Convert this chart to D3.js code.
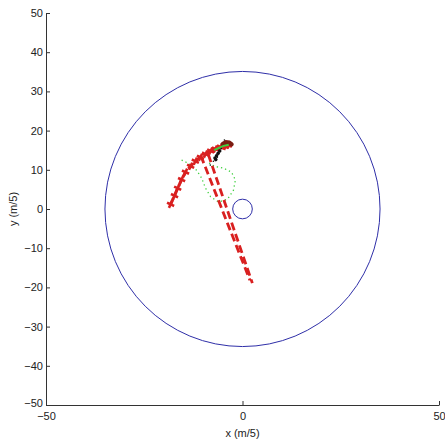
<!DOCTYPE html>
<html>
<head>
<meta charset="utf-8">
<script src="https://cdn.jsdelivr.net/npm/d3@7"></script>
<style>
  html, body { margin: 0; padding: 0; background: #fff; }
  svg { display: block; }
  text { font-family: "Liberation Sans", Arial, sans-serif; }
</style>
</head>
<body>
<svg id="chart" width="445" height="443"></svg>
<script>
// Axis ranges and tick values
const xTicks = [-50, 0, 50];
const yTicks = [-50, -40, -30, -20, -10, 0, 10, 20, 30, 40, 50];

// Boundary circles: [cx, cy, r]
const outerCircle = [0, 0, 35];
const innerCircle = [0, 0, 2.5];

// Curved track (red, with + markers)
const trackX = [-18.3, -17.3, -16.5, -15.5, -14.5, -13.2, -12.0, -10.7, -9.4, -8.1, -6.9, -5.6, -4.3, -3.6];
const trackY = [1.2, 3.4, 5.3, 7.5, 9.4, 10.9, 12.2, 13.2, 14.0, 14.8, 15.3, 15.8, 16.0, 16.3];

// Two straight dashed paths heading south
const pathAX = [-10.6, 1.9];
const pathAY = [13.6, -18.2];
const pathBX = [-8.7, 2.5];
const pathBY = [13.9, -18.9];

// Green dotted loop
const loopX = [-15.5, -13.5, -11.7, -10.4, -9.4, -8.1, -6.1, -3.8, -2.3, -1.8, -2.8, -4.8, -7.1, -8.6];
const loopY = [12.5, 11.5, 9.9, 7.9, 5.3, 3.1, 1.8, 2.5, 4.8, 7.4, 9.4, 10.4, 10.9, 11.8];

// Green segment near the end of the track
const endGreenX = [-7.2, -6.0, -4.8, -3.5];
const endGreenY = [15.0, 15.6, 16.1, 16.4];

// Dark end cluster
const endDarkX = [-5.0, -4.2, -3.4, -2.8];
const endDarkY = [16.6, 17.0, 16.9, 16.5];

// Black dots
const dotsX = [-7.0, -6.6, -6.2, -6.8, -5.8, -7.4, -5.4, -6.4, -8.2, -4.6];
const dotsY = [13.0, 13.6, 14.2, 12.6, 14.8, 12.2, 15.4, 13.2, 11.2, 17.6];

const svg = d3.select("#chart");
const x = d3.scaleLinear().domain([-50, 50]).range([46, 439]);
const y = d3.scaleLinear().domain([-50, 50]).range([405, 13]);

const zip = (xs, ys) => xs.map((v, i) => [v, ys[i]]);
const line = d3.line().x(d => x(d[0])).y(d => y(d[1]));

// Axes (MATLAB style: inward ticks, left and bottom only)
const xAxis = d3.axisBottom(x).tickValues(xTicks).tickSizeInner(-4).tickSizeOuter(0).tickPadding(7);
const yAxis = d3.axisLeft(y).tickValues(yTicks).tickSizeInner(-4).tickSizeOuter(0).tickPadding(3);

const gx = svg.append("g").attr("transform", `translate(0,${y(-50)})`).call(xAxis);
const gy = svg.append("g").attr("transform", `translate(${x(-50)},0)`).call(yAxis);
[gx, gy].forEach(g => {
  g.selectAll("path, line").attr("stroke", "#333").attr("stroke-width", 1);
  g.selectAll("text").attr("font-size", 11).attr("fill", "#222")
    .attr("font-family", "'Liberation Sans', Arial, sans-serif");
});
// lift the lowest y label a little so it sits above the x labels
gy.selectAll(".tick").filter(d => d === -50).select("text").attr("dy", "0.1em");

svg.append("text")
  .attr("x", x(0)).attr("y", 437)
  .attr("text-anchor", "middle").attr("font-size", 11).attr("fill", "#222")
  .text("x (m/5)");
svg.append("text")
  .attr("transform", `translate(17,${y(0)}) rotate(-90)`)
  .attr("text-anchor", "middle").attr("font-size", 11).attr("fill", "#222")
  .text("y (m/5)");

// Circles
[outerCircle, innerCircle].forEach(c => {
  svg.append("circle")
    .attr("cx", x(c[0])).attr("cy", y(c[1]))
    .attr("r", x(c[2]) - x(0))
    .attr("fill", "none").attr("stroke", "#2f2fa8").attr("stroke-width", 1);
});

// Green dotted loop
svg.append("path")
  .attr("d", line(zip(loopX, loopY)))
  .attr("fill", "none").attr("stroke", "#3ccf3c").attr("stroke-width", 1.3)
  .attr("stroke-dasharray", "1.3,3");

// Straight dashed paths
[[pathAX, pathAY], [pathBX, pathBY]].forEach(([px, py]) => {
  svg.append("path")
    .attr("d", line(zip(px, py)))
    .attr("fill", "none").attr("stroke", "#d92020").attr("stroke-width", 2.8)
    .attr("stroke-dasharray", "8,4");
});

// Curved track with + markers
const track = zip(trackX, trackY);
svg.append("path")
  .attr("d", line(track))
  .attr("fill", "none").attr("stroke", "#d92020").attr("stroke-width", 3)
  .attr("stroke-dasharray", "7,3");
svg.selectAll(".plus").data(track).enter().append("path")
  .attr("class", "plus")
  .attr("d", d3.symbol().type(d3.symbolCross).size(34)())
  .attr("transform", d => `translate(${x(d[0])},${y(d[1])}) rotate(25)`)
  .attr("fill", "#d92020");

// End cluster
svg.append("path")
  .attr("d", line(zip(endDarkX, endDarkY)))
  .attr("fill", "none").attr("stroke", "#7a1d12").attr("stroke-width", 4.5)
  .attr("stroke-linecap", "round");
svg.append("path")
  .attr("d", line(zip(endGreenX, endGreenY)))
  .attr("fill", "none").attr("stroke", "#3ccf3c").attr("stroke-width", 2);

// Black dots
svg.selectAll(".dot").data(zip(dotsX, dotsY)).enter().append("circle")
  .attr("class", "dot")
  .attr("cx", d => x(d[0])).attr("cy", d => y(d[1]))
  .attr("r", (d, i) => i < 5 ? 1.8 : 0.8)
  .attr("fill", "#111");
</script>
</body>
</html>
